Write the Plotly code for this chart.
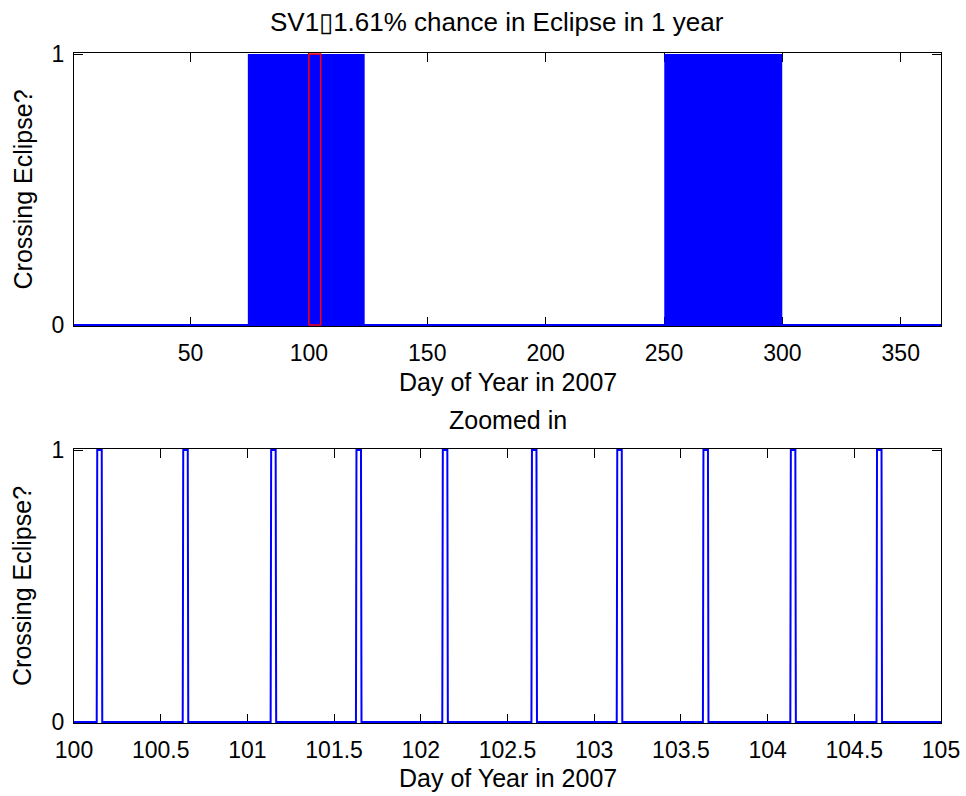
import numpy as np
import plotly.graph_objects as go

# Eclipse seasons in 2007 (day of year: start, end)
SEASON_START = [74.5, 250.3]
SEASON_END = [123.4, 299.7]

# Orbit: eclipse crossings roughly twice per day
ORBIT_PERIOD = 0.4997      # days between eclipse entries
ECLIPSE_DURATION = 0.032   # days spent in shadow per crossing
EDGE = 0.003               # sampling ramp on each edge

# Eclipse entry times observed in the zoomed window (day of year)
ZOOM_ONSETS = [100.131, 100.627, 101.134, 101.626, 102.124,
               102.638, 103.130, 103.627, 104.131, 104.628]
ZOOM_RANGE = [100, 105]

YEAR_RANGE = [0.8, 367]
YEAR_TICKS = [50, 100, 150, 200, 250, 300, 350]
ZOOM_TICKS = [100, 100.5, 101, 101.5, 102, 102.5, 103, 103.5, 104, 104.5, 105]
ZOOM_TICK_TEXT = ["100", "100.5", "101", "101.5", "102", "102.5",
                  "103", "103.5", "104", "104.5", "105"]
FLAG_TICKS = [0, 1]

TITLE_TOP = "SV1\u25af1.61% chance in Eclipse in 1 year"
TITLE_BOTTOM = "Zoomed in"
XLABEL = "Day of Year in 2007"
YLABEL = "Crossing Eclipse?"


def pulse_train(onsets, t0, t1):
    """Binary in-eclipse signal built from entry times."""
    xs, ys = [t0], [0]
    for on in onsets:
        xs += [on, on + EDGE, on + ECLIPSE_DURATION - EDGE, on + ECLIPSE_DURATION]
        ys += [0, 1, 1, 0]
    xs.append(t1)
    ys.append(0)
    return xs, ys


# Full-year entry times: repeat the orbit across each season,
# phased on the first crossing seen in the zoomed window
year_onsets = []
for s, e in zip(SEASON_START, SEASON_END):
    k0 = int(np.ceil((s - ZOOM_ONSETS[0]) / ORBIT_PERIOD))
    k1 = int(np.floor((e - ECLIPSE_DURATION - ZOOM_ONSETS[0]) / ORBIT_PERIOD))
    for k in range(k0, k1 + 1):
        year_onsets.append(ZOOM_ONSETS[0] + k * ORBIT_PERIOD)

year_x, year_y = pulse_train(year_onsets, YEAR_RANGE[0], YEAR_RANGE[1])
zoom_x, zoom_y = pulse_train(ZOOM_ONSETS, ZOOM_RANGE[0], ZOOM_RANGE[1])

BLUE = "#0000ff"
RED = "#ff0000"
FONT = "Liberation Sans, Arial, sans-serif"

W, H = 966, 796
L, R = 74, 941
TOP1, BOT1 = 53, 326
TOP2, BOT2 = 449, 723
# small pad so lines lying on 0 and 1 are not cut by the plot-area clip
YPAD = 0.004
Y_RANGE = [-YPAD, 1 + YPAD]


def px(x):
    return x / W


def py(y):
    return 1 - y / H


fig = go.Figure()

fig.add_trace(go.Scatter(
    x=year_x, y=year_y, mode="lines",
    line=dict(color=BLUE, width=2), xaxis="x", yaxis="y",
    hoverinfo="skip", showlegend=False,
))

# Outline of the zoomed window on the yearly plot
fig.add_trace(go.Scatter(
    x=[ZOOM_RANGE[0], ZOOM_RANGE[1], ZOOM_RANGE[1], ZOOM_RANGE[0], ZOOM_RANGE[0]],
    y=[0, 0, 1, 1, 0], mode="lines",
    line=dict(color=RED, width=1.5), xaxis="x", yaxis="y",
    hoverinfo="skip", showlegend=False,
))

fig.add_trace(go.Scatter(
    x=zoom_x, y=zoom_y, mode="lines",
    line=dict(color=BLUE, width=2), xaxis="x2", yaxis="y2",
    hoverinfo="skip", showlegend=False,
))

# Boxed axes with inward ticks on every side
axis_common = dict(
    showline=True, linecolor="black", linewidth=1.2, mirror="ticks",
    ticks="inside", ticklen=9, tickwidth=1.2, tickcolor="black",
    showgrid=False, zeroline=False, layer="below traces", automargin=False,
    tickfont=dict(family=FONT, size=23, color="black"),
)

fig.update_layout(
    template="none",
    width=W, height=H,
    margin=dict(l=0, r=0, t=0, b=0, pad=0),
    paper_bgcolor="white", plot_bgcolor="white",
    xaxis=dict(domain=[px(L), px(R)], range=YEAR_RANGE, tickvals=YEAR_TICKS,
               anchor="y", ticklabelstandoff=6, **axis_common),
    yaxis=dict(domain=[py(BOT1), py(TOP1)], range=Y_RANGE, tickvals=FLAG_TICKS,
               anchor="x", ticklabelstandoff=4, **axis_common),
    xaxis2=dict(domain=[px(L), px(R)], range=ZOOM_RANGE, tickvals=ZOOM_TICKS,
                ticktext=ZOOM_TICK_TEXT, anchor="y2", ticklabelstandoff=6,
                **axis_common),
    yaxis2=dict(domain=[py(BOT2), py(TOP2)], range=Y_RANGE, tickvals=FLAG_TICKS,
                anchor="x2", ticklabelstandoff=4, **axis_common),
)

cx = px((L + R) / 2)
annotations = [
    dict(text=TITLE_TOP, x=px(497), y=py(22), size=26),
    dict(text=XLABEL, x=cx, y=py(382), size=25),
    dict(text=TITLE_BOTTOM, x=cx, y=py(420), size=25),
    dict(text=XLABEL, x=cx, y=py(778), size=25),
    dict(text=YLABEL, x=px(22), y=py((TOP1 + BOT1) / 2), size=25, textangle=-90),
    dict(text=YLABEL, x=px(22), y=py((TOP2 + BOT2) / 2), size=25, textangle=-90),
]
for a in annotations:
    size = a.pop("size")
    fig.add_annotation(xref="paper", yref="paper", showarrow=False,
                       xanchor="center", yanchor="middle",
                       font=dict(family=FONT, size=size, color="black"), **a)

fig.write_html("out.html")
